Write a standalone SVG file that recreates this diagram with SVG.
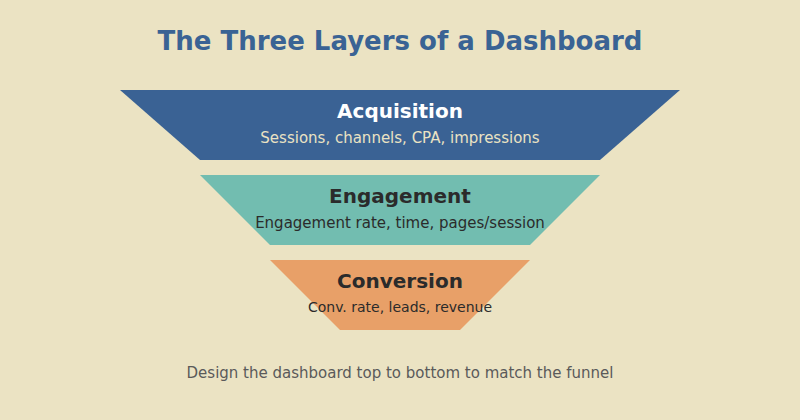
<svg xmlns="http://www.w3.org/2000/svg" width="800" height="420" viewBox="0 0 800 420">
<style>
text{font-family:"DejaVu Sans",sans-serif;text-anchor:middle}
.t{font-size:26px;font-weight:bold;fill:#3A6394}
.h{font-size:20px;font-weight:bold}
.s{font-size:15px}
.s2{font-size:14px}
.d{fill:#2B2B2B}
.f{font-size:15px;fill:#5A5A5A}
</style>
<rect width="800" height="420" fill="#EBE3C3"/>
<text class="t" x="400" y="50">The Three Layers of a Dashboard</text>
<g id="acquisition">
<polygon points="120,90 680,90 600,160 200,160" fill="#3A6294"/>
<text class="h" x="400" y="118" fill="#FFFFFF">Acquisition</text>
<text class="s" x="400" y="143" fill="#EBE3C3">Sessions, channels, CPA, impressions</text>
</g>
<g id="engagement">
<polygon points="200,175 600,175 530,245 270,245" fill="#72BDB0"/>
<text class="h d" x="400" y="203">Engagement</text>
<text class="s d" x="400" y="228">Engagement rate, time, pages/session</text>
</g>
<g id="conversion">
<polygon points="270,260 530,260 460,330 340,330" fill="#E8A068"/>
<text class="h d" x="400" y="288">Conversion</text>
<text class="s2 d" x="400" y="312">Conv. rate, leads, revenue</text>
</g>
<g id="connectors"></g>
<text class="f" x="400" y="378">Design the dashboard top to bottom to match the funnel</text>
</svg>
